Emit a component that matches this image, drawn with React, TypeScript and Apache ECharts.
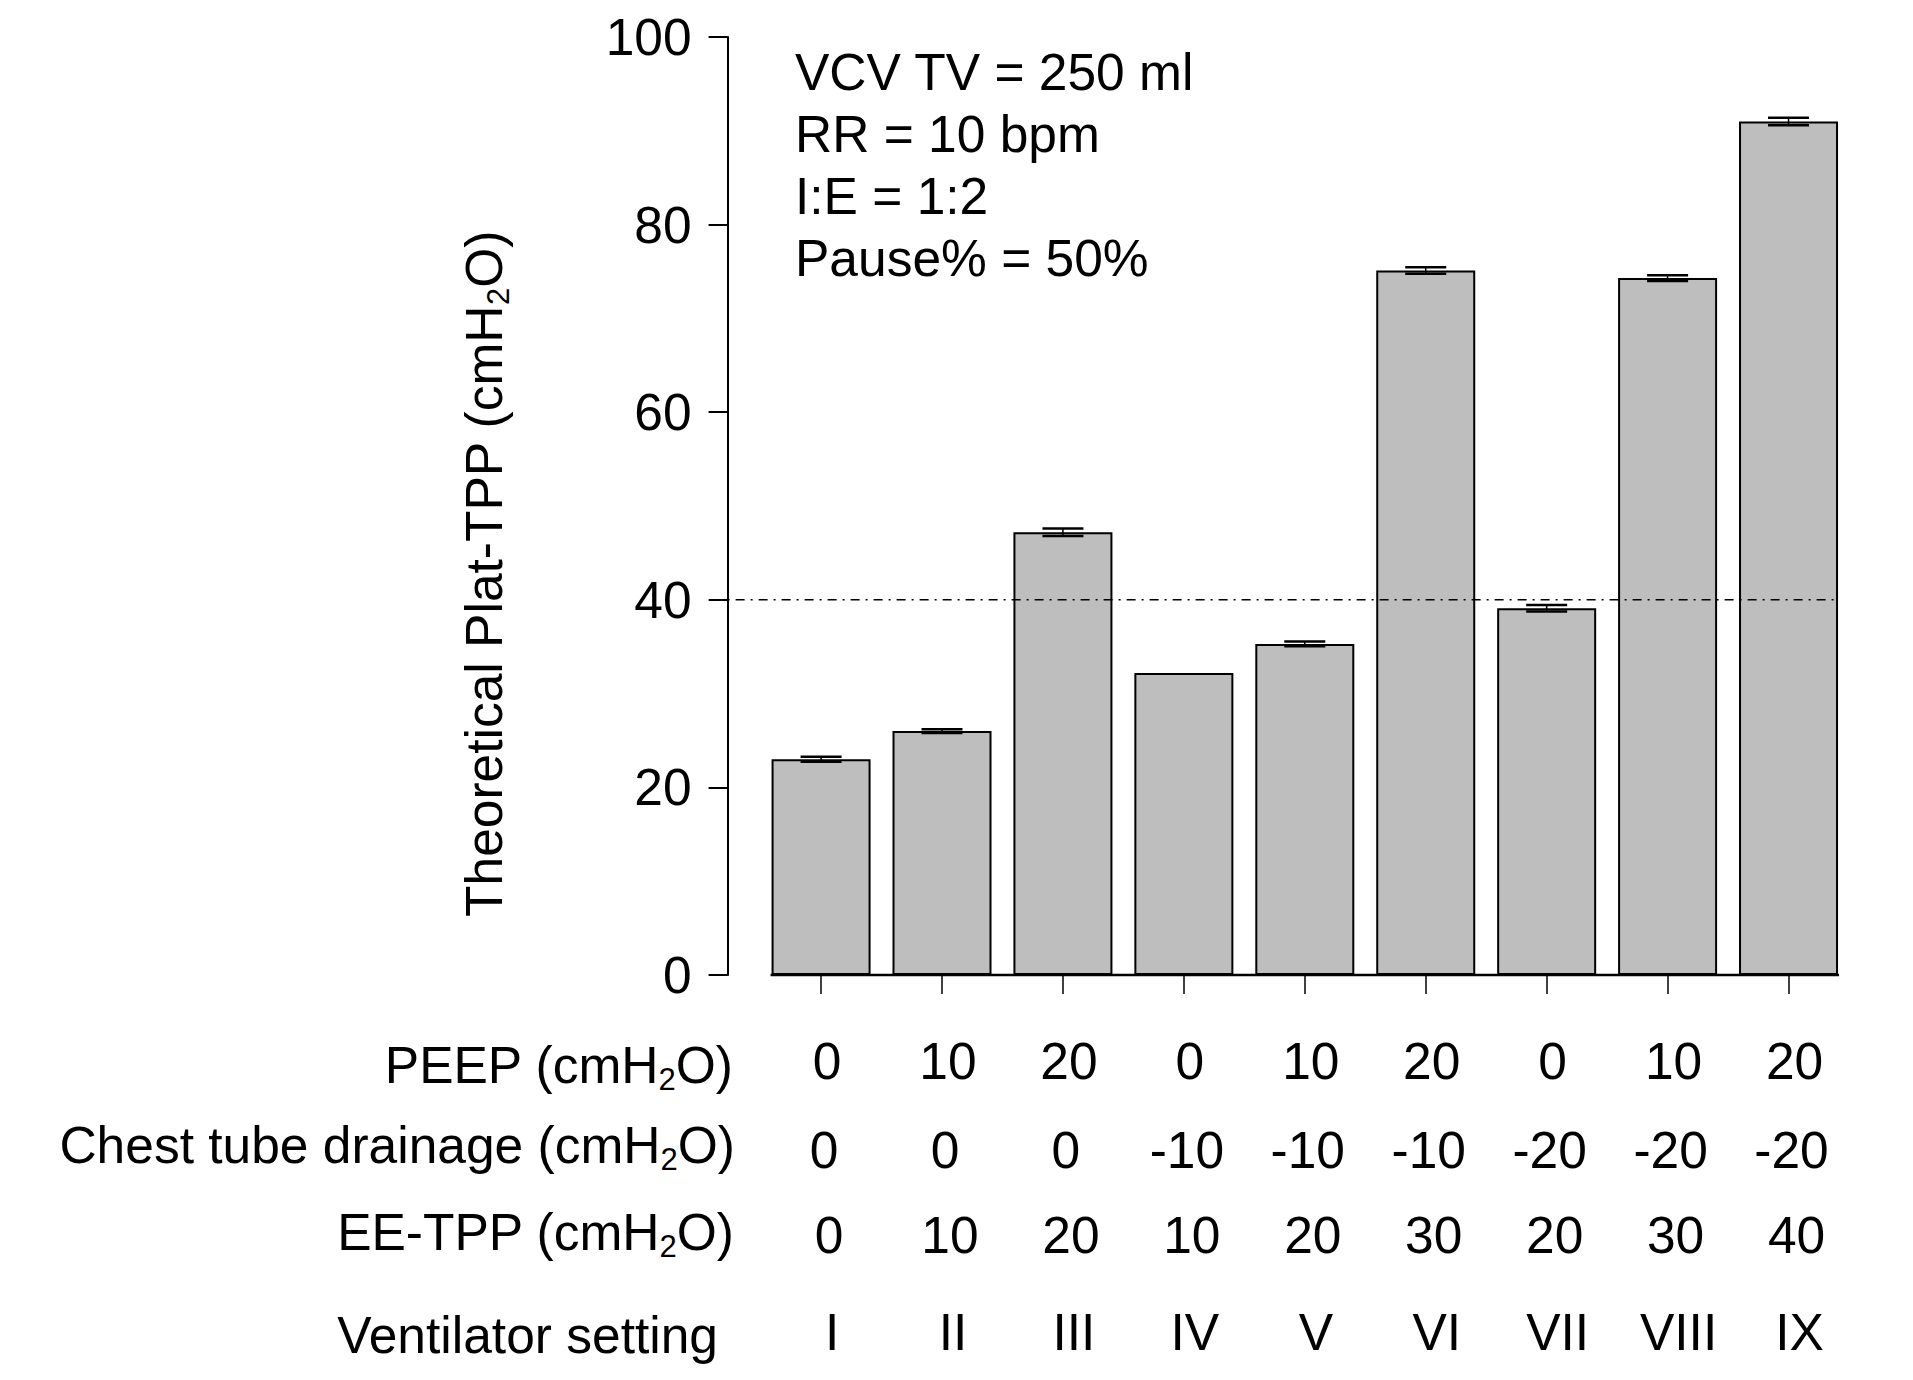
import React, { useEffect, useRef } from "react";
import * as echarts from "echarts";

const FONT = '"Liberation Sans", Arial, Helvetica, sans-serif';
const FONT_SIZE = 51.5;

// Ventilator settings and theoretical plateau transpulmonary pressure (mean and SD, cmH2O)
const settings = ["I", "II", "III", "IV", "V", "VI", "VII", "VIII", "IX"];
const platTppMean = [23.0, 26.0, 47.2, 32.2, 35.3, 75.1, 39.1, 74.3, 91.0];
const platTppSd = [0.27, 0.2, 0.4, 0, 0.25, 0.35, 0.35, 0.3, 0.4];

// Settings table printed under the bars
const peep = ["0", "10", "20", "0", "10", "20", "0", "10", "20"];
const chestTubeDrainage = ["0", "0", "0", "-10", "-10", "-10", "-20", "-20", "-20"];
const eeTpp = ["0", "10", "20", "10", "20", "30", "20", "30", "40"];

// Value axis and reference level
const yMin = 0;
const yMax = 100;
const yStep = 20;
const safetyThreshold = 40;

// Ventilation parameters box
const ventilationParams = ["VCV TV = 250 ml", "RR = 10 bpm", "I:E = 1:2", "Pause% = 50%"];

// Layout
const WIDTH = 1913;
const HEIGHT = 1380;
const GRID = { left: 760.6, width: 1088.4, top: 37, height: 938 };
const AXIS_OFFSET = 33;
const BAR_WIDTH = 99;
const BAR_HALF_OUTER = 50.5;
const CAP_HALF = 20.5;

const rich = {
  n: { fontSize: FONT_SIZE, fontFamily: FONT, lineHeight: 60, fill: "#000" },
  sub: { fontSize: 31, fontFamily: FONT, lineHeight: 20, verticalAlign: "bottom", fill: "#000" },
};

const withH2O = (name: string) => `{n|${name} (cmH}{sub|2}{n|O)}`;

const tableRows = [
  { label: withH2O("PEEP"), values: peep, labelY: 1065, valueY: 1061, dx: 6, labelRight: 733 },
  { label: withH2O("Chest tube drainage"), values: chestTubeDrainage, labelY: 1145, valueY: 1150, dx: 3, labelRight: 735 },
  { label: withH2O("EE-TPP"), values: eeTpp, labelY: 1232, valueY: 1235, dx: 8, labelRight: 734 },
  { label: "{n|Ventilator setting}", values: settings, labelY: 1335, valueY: 1332, dx: 11, labelRight: 718 },
];

export default function App() {
  const ref = useRef<HTMLDivElement>(null);

  useEffect(() => {
    const chart = echarts.init(ref.current!, null, { renderer: "svg" });

    chart.setOption({
      animation: false,
      backgroundColor: "#fff",
      grid: { left: GRID.left, top: GRID.top, width: GRID.width, height: GRID.height },
      xAxis: {
        type: "category",
        data: settings,
        axisLine: { show: false },
        axisTick: {
          show: true,
          alignWithLabel: true,
          interval: 0,
          length: 19,
          lineStyle: { color: "#000", width: 1.5 },
        },
        axisLabel: { show: false },
        splitLine: { show: false },
      },
      yAxis: {
        type: "value",
        min: yMin,
        max: yMax,
        interval: yStep,
        offset: AXIS_OFFSET,
        axisLine: { show: true, lineStyle: { color: "#000", width: 2 } },
        axisTick: { show: true, length: 19, lineStyle: { color: "#000", width: 2 } },
        axisLabel: { color: "#000", fontSize: FONT_SIZE, fontFamily: FONT, margin: 36 },
        splitLine: { show: false },
      },
      series: [
        {
          type: "bar",
          data: platTppMean,
          barWidth: BAR_WIDTH,
          itemStyle: { color: "#BEBEBE", borderColor: "#000", borderWidth: 2 },
          silent: true,
          z: 2,
        },
        {
          type: "custom",
          data: settings.map((_, i) => [i, platTppMean[i], platTppSd[i]]),
          encode: { x: 0, y: 1 },
          silent: true,
          z: 4,
          renderItem: (_params: any, api: any) => {
            const i = api.value(0);
            const m = api.value(1);
            const sd = api.value(2);
            if (!sd) return { type: "group", children: [] };
            const top = api.coord([i, m + sd]);
            const bot = api.coord([i, m - sd]);
            const stroke = { stroke: "#000", lineWidth: 2.5 };
            return {
              type: "group",
              children: [
                { type: "line", shape: { x1: top[0], y1: top[1], x2: bot[0], y2: bot[1] }, style: { stroke: "#000", lineWidth: 1.5 } },
                { type: "line", shape: { x1: top[0] - CAP_HALF, y1: top[1], x2: top[0] + CAP_HALF, y2: top[1] }, style: stroke },
                { type: "line", shape: { x1: bot[0] - CAP_HALF, y1: bot[1], x2: bot[0] + CAP_HALF, y2: bot[1] }, style: stroke },
              ],
            };
          },
        },
        {
          // threshold line and bar baseline
          type: "custom",
          data: [[0, safetyThreshold]],
          encode: { x: 0, y: 1 },
          silent: true,
          z: 5,
          renderItem: (params: any, api: any) => {
            const cs = params.coordSys;
            const yRef = api.coord([0, api.value(1)])[1];
            const y0 = api.coord([0, yMin])[1];
            const xFirst = api.coord([0, yMin])[0] - BAR_HALF_OUTER;
            const xLast = api.coord([settings.length - 1, yMin])[0] + BAR_HALF_OUTER;
            return {
              type: "group",
              children: [
                {
                  type: "line",
                  shape: { x1: cs.x - AXIS_OFFSET, y1: yRef, x2: xLast, y2: yRef },
                  style: { stroke: "#000", lineWidth: 1.5, lineDash: [2, 6, 9, 6] },
                },
                {
                  type: "line",
                  shape: { x1: xFirst, y1: y0, x2: xLast, y2: y0 },
                  style: { stroke: "#000", lineWidth: 2.5 },
                },
              ],
            };
          },
        },
      ],
    });

    const centers = settings.map((s) => chart.convertToPixel({ xAxisIndex: 0 }, s) as number);

    const elements: any[] = [
      {
        type: "text",
        x: 484,
        y: 574,
        rotation: Math.PI / 2,
        style: {
          text: withH2O("Theoretical Plat-TPP"),
          rich,
          align: "center",
          verticalAlign: "middle",
        },
      },
      {
        type: "text",
        x: 795,
        y: 41,
        style: {
          text: ventilationParams.join("\n"),
          fontSize: FONT_SIZE,
          fontFamily: FONT,
          lineHeight: 62,
          fill: "#000",
          align: "left",
          verticalAlign: "top",
        },
      },
    ];

    tableRows.forEach((row) => {
      elements.push({
        type: "text",
        x: row.labelRight,
        y: row.labelY,
        style: { text: row.label, rich, align: "right", verticalAlign: "middle" },
      });
      row.values.forEach((v, i) => {
        elements.push({
          type: "text",
          x: centers[i] + row.dx,
          y: row.valueY,
          style: {
            text: v,
            fontSize: FONT_SIZE,
            fontFamily: FONT,
            fill: "#000",
            align: "center",
            verticalAlign: "middle",
          },
        });
      });
    });

    chart.setOption({ graphic: { elements } });

    return () => chart.dispose();
  }, []);

  return (
    <div
      ref={ref}
      style={{ position: "absolute", left: 0, top: 0, width: WIDTH, height: HEIGHT, background: "#fff" }}
    />
  );
}
